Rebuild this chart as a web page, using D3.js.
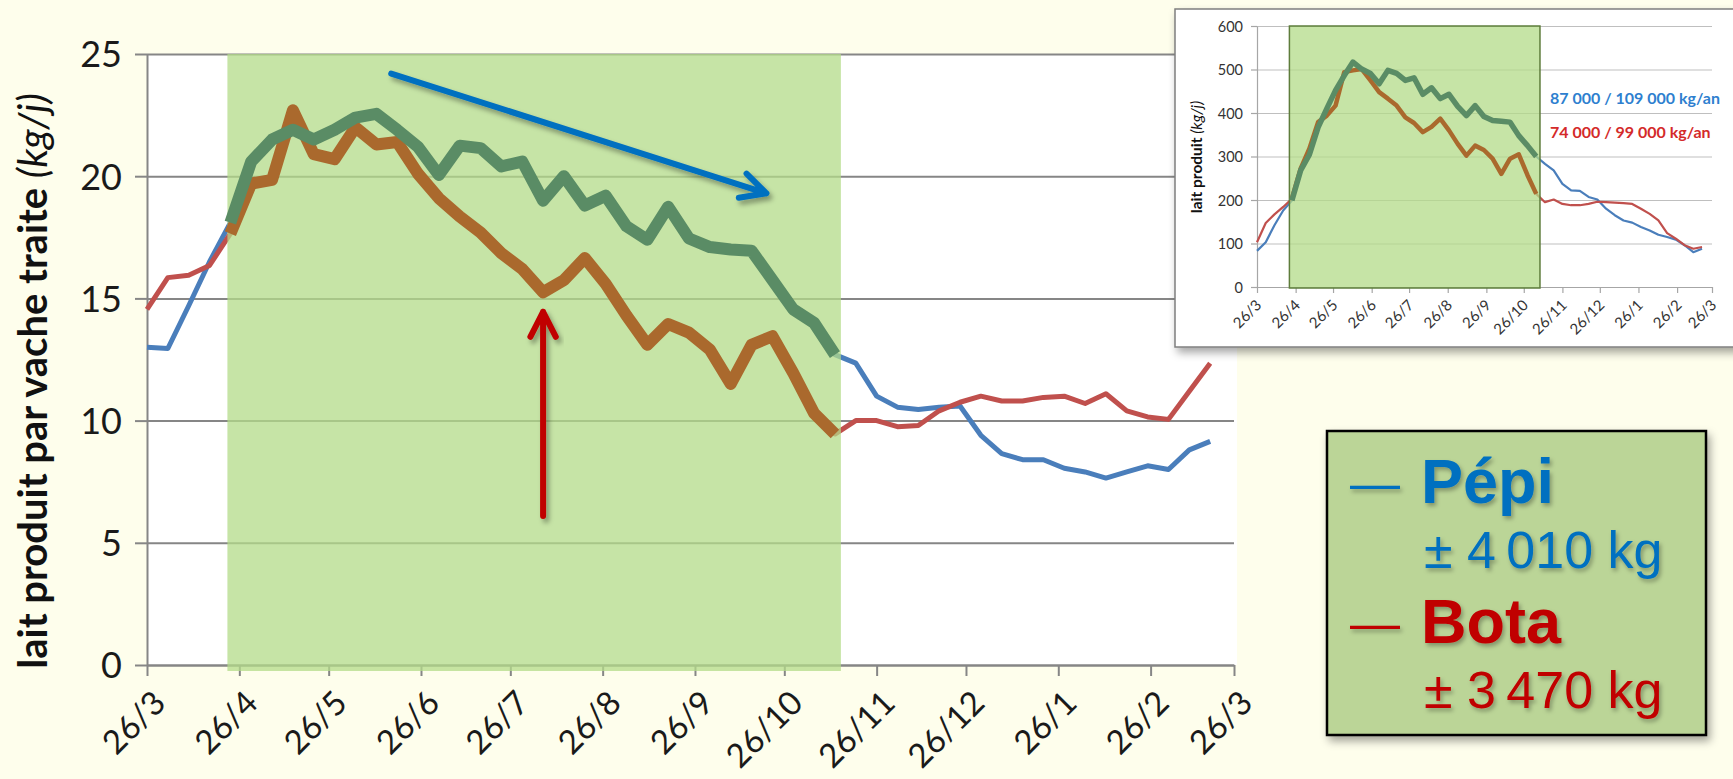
<!DOCTYPE html>
<html>
<head>
<meta charset="utf-8">
<script src="https://cdn.jsdelivr.net/npm/d3@7"></script>
<style>
  body { margin: 0; background: #FEFEEC; }
  svg { display: block; }
</style>
</head>
<body>
<div id="chart"></div>
<script>
// weekly milk per milked cow (kg/j), first week = 26/3
const pepiCow = [13.0, 12.95, 14.7, 16.5, 18.1, 20.6, 21.5, 21.9, 21.5, 21.9, 22.4, 22.55, 21.9, 21.2, 20.05, 21.25,
  21.15, 20.4, 20.6, 19.0, 20.0, 18.8, 19.2, 17.95, 17.4, 18.75, 17.45, 17.1, 17.0, 16.95, 15.75, 14.55, 14.0, 12.7,
  12.35, 11.0, 10.55, 10.45, 10.55, 10.6, 9.4, 8.65, 8.4, 8.4, 8.05, 7.9, 7.65, 7.9, 8.15, 8.0, 8.8, 9.15];
const botaCow = [14.55, 15.85, 15.95, 16.35, 17.65, 19.7, 19.85, 22.7, 20.9, 20.7, 22.0, 21.3, 21.4, 20.1, 19.1, 18.35,
  17.7, 16.85, 16.2, 15.25, 15.75, 16.65, 15.6, 14.3, 13.1, 13.95, 13.6, 12.9, 11.5, 13.1, 13.45, 11.95, 10.3, 9.45,
  10.0, 10.0, 9.75, 9.8, 10.4, 10.75, 11.0, 10.8, 10.8, 10.95, 11.0, 10.7, 11.1, 10.4, 10.15, 10.05, 11.2, 12.35];

// weekly milk of the whole herd (kg/j)
const pepiHerd = [83, 103, 142, 176, 199, 268, 304, 367, 410, 452, 486, 517, 501, 491, 467, 498, 491, 475, 481, 443,
  458, 433, 443, 415, 394, 417, 392, 383, 381, 379, 348, 325, 300, 283, 268, 237, 222, 221, 207, 201, 180, 165, 153,
  148, 138, 130, 120, 115, 109, 96, 80, 88];
const botaHerd = [103, 147, 167, 184, 203, 272, 318, 379, 394, 417, 494, 498, 501, 475, 448, 433, 417, 390, 377, 356,
  368, 387, 360, 329, 302, 325, 315, 295, 260, 295, 305, 257, 214, 195, 201, 191, 188, 188, 191, 196, 195, 194, 193,
  191, 180, 168, 153, 124, 111, 96, 88, 92];

const monthLabels = ["26/3", "26/4", "26/5", "26/6", "26/7", "26/8", "26/9", "26/10", "26/11", "26/12", "26/1", "26/2", "26/3"];
const yTicksCow = [0, 5, 10, 15, 20, 25];
const yTicksHerd = [0, 100, 200, 300, 400, 500, 600];

// grazing period (thick part of the lines), in week indexes
const grazeCow = [4, 33];
const grazeHerd = [4, 32];
const grazeBandCow = [new Date(2012, 3, 22), new Date(2012, 10, 14)];
const grazeBandHerd = [new Date(2012, 3, 21), new Date(2012, 10, 8)];

// annotation arrows, in data units [date, value]
const arrowDown = [[new Date(2012, 5, 16), 24.2], [new Date(2012, 9, 20), 19.3]];
const arrowUp = [[new Date(2012, 7, 6), 6.1], [new Date(2012, 7, 6), 14.45]];

const herdTotals = [
  { text: "87 000 / 109 000 kg/an", color: "#2E7FCF" },
  { text: "74 000 / 99 000 kg/an", color: "#D42A2A" }
];
const legendItems = [
  { name: "Pépi", amount: "± 4\u2009010 kg", color: "#0070C0" },
  { name: "Bota", amount: "± 3\u2009470 kg", color: "#C00000" }
];

const W = 1733, H = 779;
const start = new Date(2012, 2, 26);
const monthDates = monthLabels.map((d, i) => new Date(2012, 2 + i, 26));
const weekDate = i => d3.timeDay.offset(start, 7 * i);

const svg = d3.select("#chart").append("svg")
  .attr("width", W).attr("height", H)
  .attr("viewBox", `0 0 ${W} ${H}`);

const defs = svg.append("defs");
function shadow(id, dx, dy, sd, op) {
  defs.append("filter").attr("id", id)
    .attr("x", "-20%").attr("y", "-20%").attr("width", "150%").attr("height", "150%")
    .append("feDropShadow")
    .attr("dx", dx).attr("dy", dy).attr("stdDeviation", sd)
    .attr("flood-color", "#000").attr("flood-opacity", op);
}
shadow("boxShadow", 3, 5, 4, 0.35);
shadow("arrowShadow", 3, 4, 2.5, 0.35);
shadow("textShadow", 2, 3, 2, 0.3);

svg.append("rect").attr("width", W).attr("height", H).attr("fill", "#FEFEEC");

// ---------- main chart ----------
const M = { left: 147, right: 1234, top: 54, bottom: 665 };
const x = d3.scaleTime().domain([monthDates[0], monthDates[12]]).range([M.left, M.right]);
const y = d3.scaleLinear().domain([0, 25]).range([M.bottom, M.top]);

svg.append("rect")
  .attr("x", M.left).attr("y", M.top)
  .attr("width", M.right - M.left + 3).attr("height", M.bottom - M.top)
  .attr("fill", "#fff");

const grid = svg.append("g").attr("transform", `translate(${M.left},0)`)
  .call(d3.axisLeft(y).tickValues(yTicksCow).tickSize(-(M.right - M.left)).tickFormat(""));
grid.select(".domain").remove();
grid.selectAll("line").attr("stroke", "#868686").attr("stroke-width", 2);

const yAxis = svg.append("g").attr("transform", `translate(${M.left},0)`)
  .call(d3.axisLeft(y).tickValues(yTicksCow).tickSize(12).tickSizeOuter(0));
yAxis.select(".domain").attr("stroke", "#868686").attr("stroke-width", 2);
yAxis.selectAll("line").attr("stroke", "#868686").attr("stroke-width", 2);
yAxis.selectAll("text")
  .attr("x", -25).attr("dy", "0.36em")
  .attr("font-family", "Lato, sans-serif").attr("font-size", 36).attr("fill", "#1a1a1a");

const xAxis = svg.append("g").attr("transform", `translate(0,${M.bottom})`)
  .call(d3.axisBottom(x).tickValues(monthDates).tickSize(11).tickSizeOuter(0)
    .tickFormat((d, i) => monthLabels[i]));
xAxis.select(".domain").attr("stroke", "#868686").attr("stroke-width", 2);
xAxis.selectAll("line").attr("stroke", "#868686").attr("stroke-width", 2);
xAxis.selectAll("text")
  .attr("x", 0).attr("y", 0).attr("dy", 0)
  .attr("transform", "translate(20,40) rotate(-45)")
  .attr("text-anchor", "end")
  .attr("font-family", "Lato, sans-serif").attr("font-size", 33).attr("fill", "#1a1a1a");

const lineCow = d3.line().x((d, i) => x(weekDate(i))).y(d => y(d));

svg.append("path").datum(pepiCow).attr("d", lineCow)
  .attr("fill", "none").attr("stroke", "#4A7EBB").attr("stroke-width", 5).attr("stroke-linejoin", "round");
svg.append("path").datum(botaCow).attr("d", lineCow)
  .attr("fill", "none").attr("stroke", "#C0504D").attr("stroke-width", 5).attr("stroke-linejoin", "round");

svg.append("rect")
  .attr("x", x(grazeBandCow[0])).attr("y", M.top)
  .attr("width", x(grazeBandCow[1]) - x(grazeBandCow[0])).attr("height", M.bottom - M.top + 6)
  .attr("fill", "#B3DB88").attr("fill-opacity", 0.75);

function thick(values, range, lineGen, color, w) {
  const pts = values.map((v, i) => [i, v]).slice(range[0], range[1] + 1);
  svg.append("path").datum(pts)
    .attr("d", lineGen.x(d => lineGen.xs(d[0])).y(d => lineGen.ys(d[1]))(pts))
    .attr("fill", "none").attr("stroke", color).attr("stroke-width", w)
    .attr("stroke-linejoin", "round");
}
const thickCow = d3.line();
thickCow.xs = i => x(weekDate(i));
thickCow.ys = v => y(v);
thick(botaCow, grazeCow, thickCow, "#AA692D", 12);
thick(pepiCow, grazeCow, thickCow, "#5A8C65", 12);

// y title
const yTitle = svg.append("text")
  .attr("transform", `translate(47,381) rotate(-90)`)
  .attr("text-anchor", "middle")
  .attr("font-family", "Lato, sans-serif").attr("font-size", 40).attr("fill", "#111");
yTitle.append("tspan").attr("font-weight", "bold").text("lait produit par vache traite ");
yTitle.append("tspan").attr("font-style", "italic").text("(kg/j)");

// arrows
function arrow(pts, color) {
  const [a, b] = pts.map(p => [x(p[0]), y(p[1])]);
  const ang = Math.atan2(a[1] - b[1], a[0] - b[0]);
  const len = 28, spread = 27 * Math.PI / 180;
  const w1 = [b[0] + len * Math.cos(ang + spread), b[1] + len * Math.sin(ang + spread)];
  const w2 = [b[0] + len * Math.cos(ang - spread), b[1] + len * Math.sin(ang - spread)];
  svg.append("path")
    .attr("d", `M${a}L${b}M${w1}L${b}L${w2}`)
    .attr("fill", "none").attr("stroke", color).attr("stroke-width", 6)
    .attr("stroke-linecap", "round").attr("stroke-linejoin", "round")
    .attr("filter", "url(#arrowShadow)");
}
arrow(arrowDown, "#0070C0");
arrow(arrowUp, "#C00000");

// ---------- inset chart (whole herd) ----------
svg.append("rect")
  .attr("x", 1175).attr("y", 9).attr("width", 600).attr("height", 338)
  .attr("fill", "#fff").attr("stroke", "#7F7F7F").attr("stroke-width", 1.5)
  .attr("filter", "url(#boxShadow)");

const I = { left: 1257, right: 1712, top: 26, bottom: 287 };
const xi = d3.scaleTime().domain([monthDates[0], monthDates[12]]).range([I.left, I.right]);
const yi = d3.scaleLinear().domain([0, 600]).range([I.bottom, I.top]);

const gridI = svg.append("g").attr("transform", `translate(${I.left},0)`)
  .call(d3.axisLeft(yi).tickValues(yTicksHerd).tickSize(-(I.right - I.left)).tickFormat(""));
gridI.select(".domain").remove();
gridI.selectAll("line").attr("stroke", "#BFBFBF").attr("stroke-width", 1.2);

const yAxisI = svg.append("g").attr("transform", `translate(${I.left},0)`)
  .call(d3.axisLeft(yi).tickValues(yTicksHerd).tickSize(6).tickSizeOuter(0));
yAxisI.selectAll(".domain, line").attr("stroke", "#A6A6A6").attr("stroke-width", 1.2);
yAxisI.selectAll("text")
  .attr("x", -14).attr("dy", "0.35em")
  .attr("font-family", "Lato, sans-serif").attr("font-size", 14.5).attr("fill", "#333");

const xAxisI = svg.append("g").attr("transform", `translate(0,${I.bottom})`)
  .call(d3.axisBottom(xi).tickValues(monthDates).tickSize(6).tickSizeOuter(0)
    .tickFormat((d, i) => monthLabels[i]));
xAxisI.selectAll(".domain, line").attr("stroke", "#A6A6A6").attr("stroke-width", 1.2);
xAxisI.selectAll("text")
  .attr("x", 0).attr("y", 0).attr("dy", 0)
  .attr("transform", "translate(5,19) rotate(-45)")
  .attr("text-anchor", "end")
  .attr("font-family", "Lato, sans-serif").attr("font-size", 15).attr("fill", "#333");

const lineHerd = d3.line().x((d, i) => xi(weekDate(i))).y(d => yi(d));
svg.append("path").datum(pepiHerd).attr("d", lineHerd)
  .attr("fill", "none").attr("stroke", "#4A7EBB").attr("stroke-width", 2.2).attr("stroke-linejoin", "round");
svg.append("path").datum(botaHerd).attr("d", lineHerd)
  .attr("fill", "none").attr("stroke", "#C0504D").attr("stroke-width", 2.2).attr("stroke-linejoin", "round");

svg.append("rect")
  .attr("x", xi(grazeBandHerd[0])).attr("y", I.top)
  .attr("width", xi(grazeBandHerd[1]) - xi(grazeBandHerd[0])).attr("height", I.bottom - I.top + 1)
  .attr("fill", "#B3DB88").attr("fill-opacity", 0.75)
  .attr("stroke", "#5E7D3C").attr("stroke-width", 1.5);

const thickHerd = d3.line();
thickHerd.xs = i => xi(weekDate(i));
thickHerd.ys = v => yi(v);
thick(botaHerd, grazeHerd, thickHerd, "#AA692D", 4.5);
thick(pepiHerd, grazeHerd, thickHerd, "#5A8C65", 5.5);

const yTitleI = svg.append("text")
  .attr("transform", `translate(1202,157) rotate(-90)`)
  .attr("text-anchor", "middle")
  .attr("font-family", "Lato, sans-serif").attr("font-size", 15.5).attr("fill", "#111");
yTitleI.append("tspan").attr("font-weight", "bold").text("lait produit ");
yTitleI.append("tspan").attr("font-style", "italic").text("(kg/j)");

svg.selectAll(".herdTotal").data(herdTotals).join("text")
  .attr("class", "herdTotal")
  .attr("x", 1550).attr("y", (d, i) => 104 + i * 34)
  .attr("font-family", "Lato, sans-serif").attr("font-weight", "bold").attr("font-size", 16)
  .attr("fill", d => d.color)
  .text(d => d.text);

// ---------- legend ----------
svg.append("rect")
  .attr("x", 1327).attr("y", 431).attr("width", 379).attr("height", 304)
  .attr("fill", "#BBD597").attr("stroke", "#000").attr("stroke-width", 2.5)
  .attr("filter", "url(#boxShadow)");

const leg = svg.selectAll(".legItem").data(legendItems).join("g")
  .attr("class", "legItem")
  .attr("transform", (d, i) => `translate(0,${i * 140})`)
  .attr("filter", "url(#textShadow)")
  .attr("font-family", "'Liberation Sans', Arial, sans-serif")
  .attr("fill", d => d.color);
leg.append("text").attr("x", 1350).attr("y", 500).attr("font-size", 50).text("—");
leg.append("text").attr("x", 1421).attr("y", 503).attr("font-size", 63).attr("font-weight", "bold").text(d => d.name);
leg.append("text").attr("x", 1424).attr("y", 568).attr("font-size", 52).text(d => d.amount);
</script>
</body>
</html>
